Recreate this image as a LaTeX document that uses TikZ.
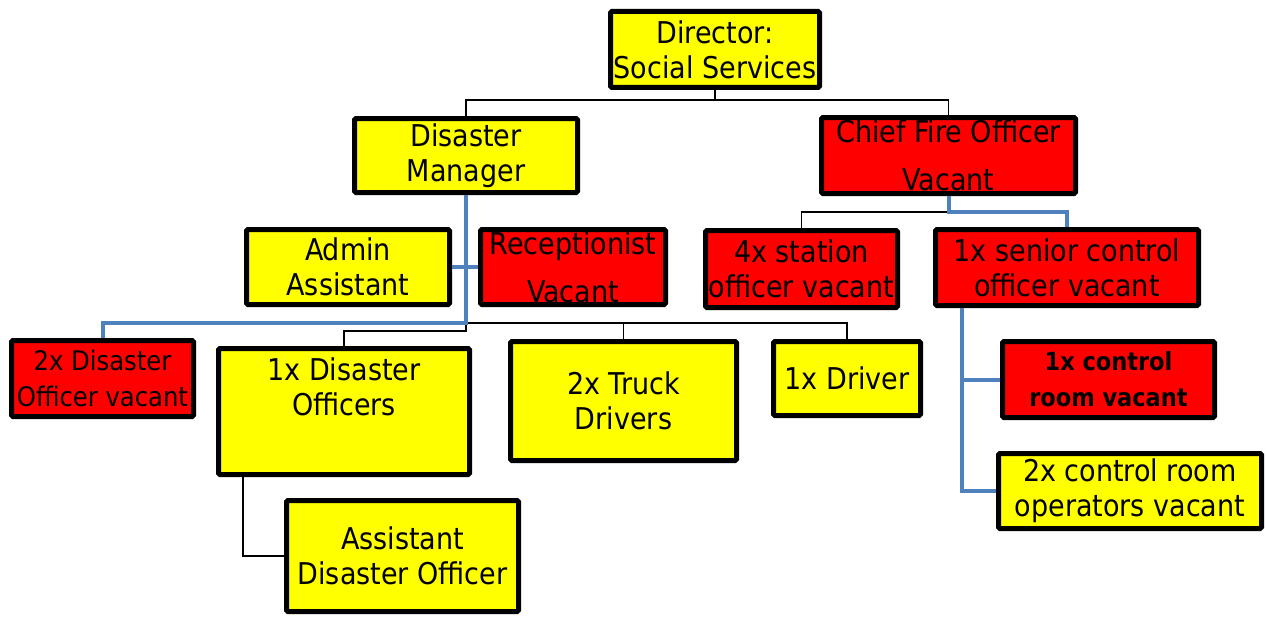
\documentclass[tikz,border=0pt]{standalone}
\usepackage{fontspec}
\setmainfont{DejaVu Sans Condensed}
\definecolor{boxyellow}{RGB}{255,255,0}
\definecolor{boxred}{RGB}{255,0,0}
\definecolor{linkblue}{RGB}{79,129,189}
\tikzset{
  orgbox/.style={draw=black, line width=5pt, rounded corners=1.5pt, inner sep=0pt, align=center,
    font=\fontsize{30}{35}\selectfont},
  yel/.style={orgbox, fill=boxyellow},
  rd/.style={orgbox, fill=boxred},
  wide/.style={font=\fontsize{30}{48}\selectfont},
  small/.style={font=\fontsize{27}{36}\selectfont},
  smallbold/.style={font=\fontsize{25}{36}\selectfont\bfseries},
  thin/.style={draw=black, line width=1.3pt},
  blueline/.style={draw=linkblue, line width=4pt},
}
\begin{document}
\begin{tikzpicture}[x=1pt,y=-1pt]
\useasboundingbox (0,0) rectangle (1267,618);
% nodes
\node[yel, minimum width=209, minimum height=76] (dir) at (715,49.5) {Director:\\Social Services};
\node[yel, minimum width=223, minimum height=74] (dm) at (466,155.5) {Disaster\\Manager};
\node[rd, wide, minimum width=254, minimum height=76] (cfo) at (948.5,155.5) {Chief Fire Officer\\Vacant};
\node[yel, minimum width=203, minimum height=75] (adm) at (348,267) {Admin\\Assistant};
\node[rd, wide, minimum width=185, minimum height=75] (rec) at (573,267) {Receptionist\\Vacant};
\node[rd, minimum width=192, minimum height=77] (sta) at (801.5,269) {4x station\\officer vacant};
\node[rd, minimum width=263, minimum height=76] (sen) at (1067,267.5) {1x senior control\\officer vacant};
\node[rd, small, minimum width=182, minimum height=76] (do2) at (102.5,378.5) {2x Disaster\\Officer vacant};
\node[yel, minimum width=251, minimum height=126] (do1) at (344,411.5) {};
\node[align=center, font=\fontsize{30}{35}\selectfont] (do1t) at (344,387) {1x Disaster\\Officers};
\node[yel, minimum width=226, minimum height=119] (trk) at (623.5,401) {2x Truck\\Drivers};
\node[yel, minimum width=147, minimum height=74] (drv) at (847,378.5) {1x Driver};
\node[rd, smallbold, minimum width=212, minimum height=76] (crv) at (1108.5,379.5) {1x control\\room vacant};
\node[yel, minimum width=263, minimum height=75] (cro) at (1130,491) {2x control room\\operators vacant};
\node[yel, minimum width=232, minimum height=111] (ado) at (402.5,556) {Assistant\\Disaster Officer};
% junctions
\coordinate (j1) at (715,100);
\coordinate (j2) at (466,323);
\coordinate (j3) at (466,331);
\coordinate (j4) at (948.5,212);
\coordinate (j5) at (962,491);
% connectors
\draw[thin] (dir.south) -- (j1);
\draw[thin] (j1) -| (dm.north);
\draw[thin] (j1) -| (cfo.north);
\draw[thin] (j2) -| (trk.north);
\draw[thin] (j2) -| (drv.north);
\draw[thin] (j2) -- (j3) -| (do1.north);
\draw[thin] ([xshift=27pt]do1.south west) |- (ado.west);
\draw[thin] (j4) -| (sta.north);
\draw[blueline] (dm.south) -- (j2) -| (do2.north);
\draw[blueline] (adm.east) -- (rec.west);
\draw[blueline] (cfo.south) -- (j4) -| (sen.north);
\draw[blueline] (sen.south -| j5) |- (crv.west);
\draw[blueline] (sen.south -| j5) -- (j5) -- (cro.west);
\end{tikzpicture}
\end{document}
